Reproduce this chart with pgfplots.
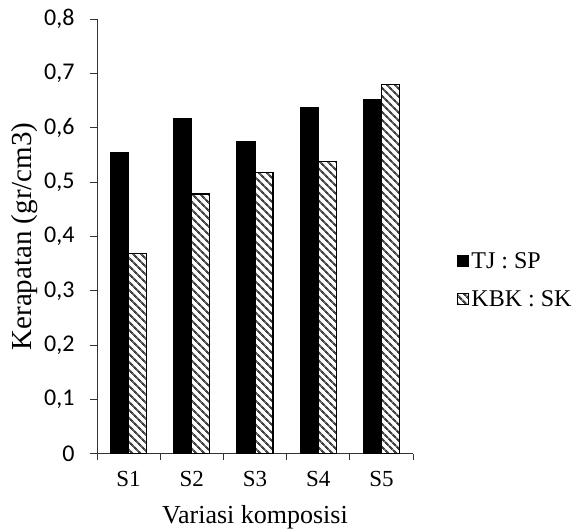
\documentclass[border=0pt]{standalone}
\usepackage{fontspec}
\setmainfont{Liberation Serif}
\newfontfamily\tickfont{Carlito}
\usepackage{pgfplots}
\pgfplotsset{compat=1.18}
\usetikzlibrary{patterns.meta}

\begin{document}
\begin{tikzpicture}
\useasboundingbox (0,0) rectangle (572bp,532bp);
\begin{axis}[
    at={(97bp,78bp)}, anchor=south west,
    scale only axis,
    width=316bp, height=435bp,
    ybar=0pt, bar width=18bp,
    xmin=-0.5, xmax=4.5,
    ymin=0, ymax=0.8,
    axis x line*=bottom,
    axis y line*=left,
    axis line style={line width=1bp, black!80},
    tick align=outside,
    xtick={0,1,2,3,4},
    xticklabels={S1,S2,S3,S4,S5},
    minor xtick={-0.5,0.5,1.5,2.5,3.5,4.5},
    every major x tick/.append style={draw=none},
    major tick length=7bp,
    minor tick length=6bp,
    tick style={line width=1bp, black!80},
    ytick={0,0.1,0.2,0.3,0.4,0.5,0.6,0.7,0.8},
    /pgf/number format/assume math mode=true,
    /pgf/number format/use comma,
    /pgf/number format/fixed,
    /pgf/number format/precision=1,
    yticklabel style={font=\tickfont\fontsize{24bp}{28bp}\selectfont, xshift=-12bp},
    xticklabel style={font=\fontsize{23bp}{27bp}\selectfont, yshift=-7bp},
    xlabel={Variasi komposisi},
    ylabel={Kerapatan (gr/cm3)},
    xlabel style={font=\fontsize{26bp}{30bp}\selectfont, yshift=-12bp},
    ylabel style={font=\fontsize{29bp}{34bp}\selectfont},
    legend style={draw=none, fill=none, at={(1.14,0.40)}, anchor=west,
        font=\fontsize{24bp}{28bp}\selectfont, row sep=17bp,
        cells={anchor=west}, inner sep=0pt},
    legend image code/.code={\draw[#1, line width=1bp] (0bp,-5.5bp) rectangle (11bp,5.5bp);},
]
\addplot[fill=black, draw=black, line width=1.2bp]
    coordinates {(0,0.555) (1,0.617) (2,0.574) (3,0.637) (4,0.651)};
\addlegendentry{TJ : SP}
\addplot[fill=white, draw=black, line width=1.2bp,
    postaction={pattern={Lines[angle=-45,distance=6bp,line width=2.6bp]}, pattern color=black!75}]
    coordinates {(0,0.369) (1,0.478) (2,0.518) (3,0.538) (4,0.679)};
\addlegendentry{KBK : SK}
\end{axis}
\end{tikzpicture}
\end{document}
